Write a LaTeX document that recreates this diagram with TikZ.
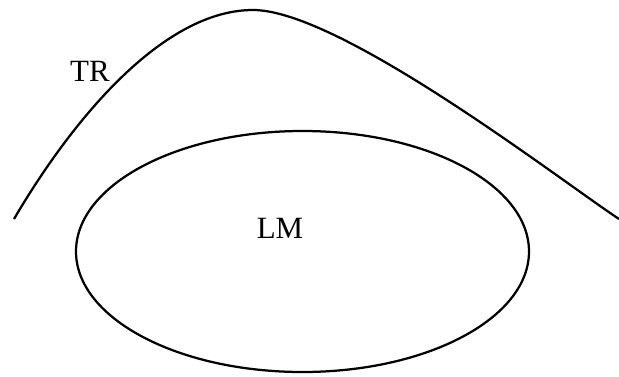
\documentclass[tikz,border=0pt]{standalone}
\usepackage{fontspec}
\setmainfont{Liberation Serif}
\usepackage{tikz}

\begin{document}
\begin{tikzpicture}[x=0.025cm,y=-0.025cm,line width=1.6pt,
    lbl/.style={font=\fontsize{22}{26}\selectfont,inner sep=0pt}]
    \useasboundingbox (0,0) rectangle (619,376);

    % Kurva TR
    \coordinate (a) at (14,219);
    \coordinate (top) at (253,10);
    \coordinate (b) at (619,219);
    \draw (a) .. controls (75,115) and (165,10) .. (top)
              .. controls (340,10) and (560,180) .. (b);
    \node[lbl] (tr) at (90,71) {TR};

    % Elips LM
    \draw (302.5,251.5) ellipse [x radius=226.5, y radius=120.5];
    \node[lbl] (lm) at (280,228) {LM};

\end{tikzpicture}
\end{document}
